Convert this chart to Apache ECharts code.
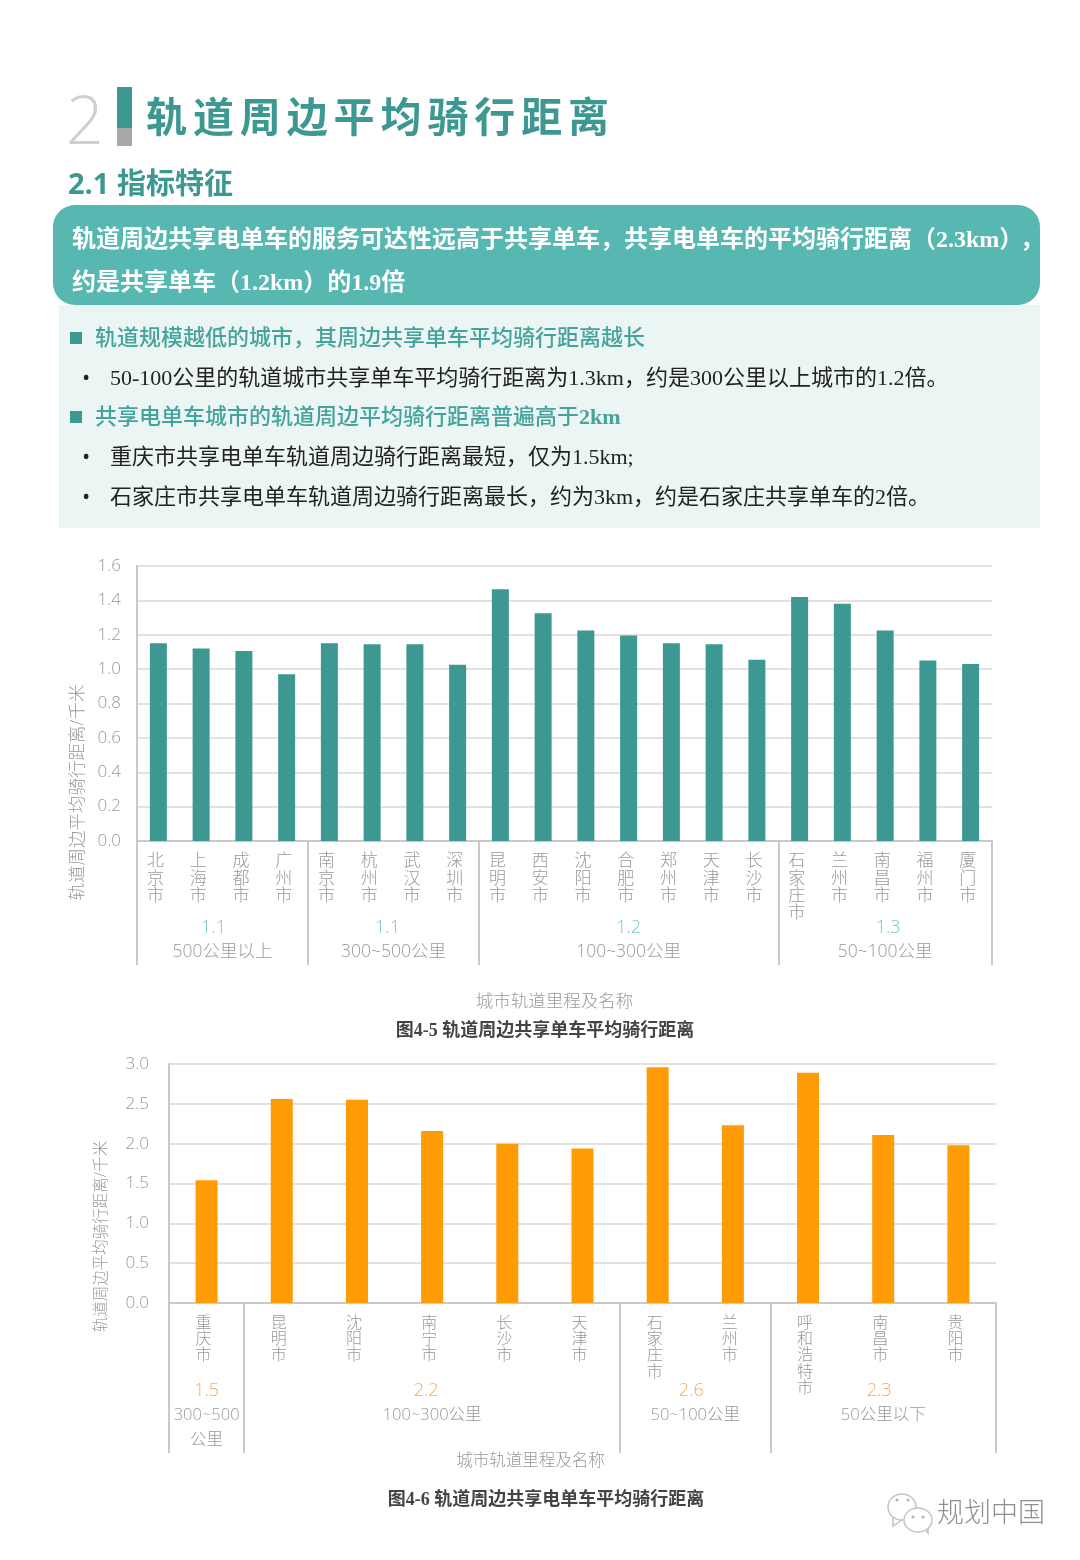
<!DOCTYPE html>
<html>
<head>
<meta charset="utf-8">
<style>html,body{margin:0;padding:0;background:#fff}#main{width:1080px;height:1560px}</style>
<script src="https://cdn.jsdelivr.net/npm/echarts@6/dist/echarts.min.js"></script>
</head>
<body>
<div id="main"></div>
<script>
var bikeCities = ['北京市','上海市','成都市','广州市','南京市','杭州市','武汉市','深圳市','昆明市','西安市','沈阳市','合肥市','郑州市','天津市','长沙市','石家庄市','兰州市','南昌市','福州市','厦门市'];
var bikeValues = [1.15,1.12,1.105,0.97,1.15,1.145,1.145,1.025,1.465,1.325,1.225,1.195,1.15,1.145,1.055,1.42,1.38,1.225,1.05,1.03];
var bikeGroupEdges = [0,4,8,15,20];
var bikeGroupNames = ['500公里以上','300~500公里','100~300公里','50~100公里'];
var bikeGroupMeans = ['1.1','1.1','1.2','1.3'];

var ebikeCities = ['重庆市','昆明市','沈阳市','南宁市','长沙市','天津市','石家庄市','兰州市','呼和浩特市','南昌市','贵阳市'];
var ebikeValues = [1.54,2.56,2.55,2.16,2.0,1.94,2.96,2.23,2.89,2.11,1.98];
var ebikeGroupEdges = [0,1,6,8,11];
var ebikeGroupNames = ['300~500\n公里','100~300公里','50~100公里','50公里以下'];
var ebikeGroupMeans = ['1.5','2.2','2.6','2.3'];

var yName = '轨道周边平均骑行距离/千米';
var xName = '城市轨道里程及名称';
var headline = '轨道周边平均骑行距离';

var GREY = '#999', LINE = '#c9c9c9', TEAL = '#3d9892', ACCENT = '#45a39d';
var sans = '"Open Sans","Noto Sans CJK SC",sans-serif';
var mixed = '"Liberation Serif","Noto Sans CJK SC",serif';

function centers(edges) {
    var out = [];
    for (var i = 0; i < edges.length - 1; i++) out.push((edges[i] + edges[i + 1]) / 2);
    return out;
}
function vertical(name) { return name.split('').join('\n'); }

function catAxis(gridIndex, cities, labelSize, nameSize, nameGap, namePad) {
    return {
        type: 'category', gridIndex: gridIndex, data: cities, position: 'bottom',
        name: xName, nameLocation: 'middle', nameGap: nameGap,
        nameTextStyle: { color: GREY, fontSize: nameSize, fontFamily: sans, fontWeight: 300, padding: namePad },
        axisLine: { show: true, lineStyle: { color: LINE, width: 2 } },
        axisTick: { show: false },
        axisLabel: {
            interval: 0, margin: 12, color: GREY, fontSize: labelSize, fontWeight: 300,
            fontFamily: sans, lineHeight: labelSize + 0.3, verticalAlign: 'top',
            padding: [0, 6, 0, 0],
            formatter: vertical
        }
    };
}
function groupAxis(gridIndex, edges, names, means, color, size, tickLen, margin, pads) {
    var mids = centers(edges);
    var rich = {
        g: { color: GREY, fontSize: size, fontWeight: 300, fontFamily: sans, lineHeight: 25 }
    };
    pads.forEach(function (p, i) {
        rich['m' + i] = { color: color, fontSize: 18, fontWeight: 300, fontFamily: sans, lineHeight: 24, padding: p };
    });
    return {
        type: 'value', gridIndex: gridIndex, position: 'bottom', min: 0, max: edges[edges.length - 1],
        axisLine: { show: false }, splitLine: { show: false },
        axisTick: { show: true, customValues: edges, length: tickLen, lineStyle: { color: LINE, width: 2 } },
        axisLabel: {
            show: true, customValues: mids, margin: margin, verticalAlign: 'top', align: 'center',
            hideOverlap: false, showMinLabel: true, showMaxLabel: true,
            formatter: function (v) {
                var i = mids.indexOf(v);
                var lines = names[i].split('\n').map(function (s) { return '{g|' + s + '}'; }).join('\n');
                return '{m' + i + '|' + means[i] + '}\n' + lines;
            },
            rich: rich
        }
    };
}
function valAxis(gridIndex, max, interval, labelSize, margin, nameSize, nameGap, namePad) {
    return {
        type: 'value', gridIndex: gridIndex, min: 0, max: max, interval: interval,
        name: yName, nameLocation: 'middle', nameGap: nameGap, nameRotate: 90,
        nameTextStyle: { color: GREY, fontSize: nameSize, fontFamily: sans, fontWeight: 300, padding: namePad },
        axisLine: { show: true, lineStyle: { color: LINE, width: 2 } },
        axisTick: { show: false },
        splitLine: { show: true, lineStyle: { color: '#d9d9d9', width: 1.5 } },
        axisLabel: {
            margin: margin, color: GREY, fontSize: labelSize, fontWeight: 300, fontFamily: sans,
            formatter: function (v) { return v.toFixed(1); }
        }
    };
}

function text(x, y, str, size, color, extra) {
    var style = { x: x, y: y, text: str, fontSize: size, fill: color, fontFamily: mixed, verticalAlign: 'middle' };
    for (var k in extra) style[k] = extra[k];
    return { type: 'text', silent: true, style: style };
}
function rect(x, y, w, h, fill, r) {
    return { type: 'rect', silent: true, shape: { x: x, y: y, width: w, height: h, r: r || 0 }, style: { fill: fill } };
}
function bubble(cx, cy, rx, ry) {
    return { type: 'ellipse', silent: true, shape: { cx: cx, cy: cy, rx: rx, ry: ry }, style: { fill: '#fff', stroke: '#c4c4c4', lineWidth: 1.5 } };
}
function tail(points) {
    return { type: 'polyline', silent: true, shape: { points: points }, style: { fill: '#fff', stroke: '#c4c4c4', lineWidth: 1.5 } };
}
function dot(cx, cy) {
    return { type: 'circle', silent: true, shape: { cx: cx, cy: cy, r: 1.6 }, style: { fill: '#b5b5b5' } };
}

var page = [
    text(66, 125, '2', 66, '#cfcfcf', { fontFamily: sans, fontWeight: 200 }),
    rect(117, 87, 15, 41, TEAL),
    rect(117, 128, 15, 18, '#a8a8a8'),
    text(68, 186, '2.1 指标特征', 29, TEAL, { fontFamily: sans, fontWeight: 'bold' }),
    rect(59, 305, 981, 223, '#ebf5f4'),
    rect(53, 205, 987, 100, '#57b8b2', 22),
    text(72, 241, '轨道周边共享电单车的服务可达性远高于共享单车，共享电单车的平均骑行距离（2.3km）', 24, '#fff', { fontWeight: 'bold' }),
    text(1020, 241, '，', 24, '#fff', { fontWeight: 'bold' }),
    text(72, 284, '约是共享单车（1.2km）的1.9倍', 24, '#fff', { fontWeight: 'bold' }),
    rect(70, 332, 12, 12, TEAL),
    text(95, 339, '轨道规模越低的城市，其周边共享单车平均骑行距离越长', 22, ACCENT, { fontWeight: 500 }),
    text(82, 379, '•', 22, '#222', { fontFamily: sans }),
    text(110, 379, '50-100公里的轨道城市共享单车平均骑行距离为1.3km，约是300公里以上城市的1.2倍。', 22, '#222'),
    rect(70, 411, 12, 12, TEAL),
    text(95, 418, '共享电单车城市的轨道周边平均骑行距离普遍高于{b|2km}', 22, ACCENT, {
        fontWeight: 500,
        rich: { b: { fontSize: 22, fontWeight: 'bold', fontFamily: mixed, fill: ACCENT } }
    }),
    text(82, 458, '•', 22, '#222', { fontFamily: sans }),
    text(110, 458, '重庆市共享电单车轨道周边骑行距离最短，仅为1.5km;', 22, '#222'),
    text(82, 498, '•', 22, '#222', { fontFamily: sans }),
    text(110, 498, '石家庄市共享电单车轨道周边骑行距离最长，约为3km，约是石家庄共享单车的2倍。', 22, '#222'),
    text(545, 1031, '图4-5 轨道周边共享单车平均骑行距离', 18, '#444', { fontWeight: 'bold', align: 'center' }),
    text(546, 1500, '图4-6 轨道周边共享电单车平均骑行距离', 18, '#444', { fontWeight: 'bold', align: 'center' }),
    tail([[893, 1517], [893, 1526], [902, 1520]]),
    bubble(902, 1507, 14, 13), dot(897, 1500), dot(908, 1500),
    tail([[924, 1528], [928, 1533], [928, 1526]]),
    bubble(918, 1520, 14, 12), dot(913, 1517), dot(923, 1517),
    text(937, 1514, '规划中国', 27, '#8f8f8f', { fontFamily: sans, fontWeight: 300 })
];
// 标题字距拉开，逐字排
headline.split('').forEach(function (ch, i) {
    page.push(text(146 + i * 46.9, 120, ch, 41, TEAL, { fontFamily: sans, fontWeight: 'bold' }));
});

var chart = echarts.init(document.getElementById('main'));
chart.setOption({
    animation: false,
    backgroundColor: '#fff',
    graphic: { elements: page },
    grid: [
        { left: 137, top: 566, width: 855, height: 275 },
        { left: 169, top: 1064, width: 827, height: 239 }
    ],
    xAxis: [
        catAxis(0, bikeCities, 17, 17.5, 152, [0, 20, 0, 0]),
        groupAxis(0, bikeGroupEdges, bikeGroupNames, bikeGroupMeans, '#7cc4cf', 17.5, 124, 75,
            [[0, 18, 0, 0], [0, 12, 0, 0], [0, 0, 0, 0], [0, 0, 0, 6]]),
        catAxis(1, ebikeCities, 16, 16.5, 150, [0, 104, 0, 0]),
        groupAxis(1, ebikeGroupEdges, ebikeGroupNames, ebikeGroupMeans, '#f7ab52', 16.5, 150, 76,
            [[0, 0, 0, 0], [0, 12, 0, 0], [0, 8, 0, 0], [0, 8, 0, 0]])
    ],
    yAxis: [
        valAxis(0, 1.6, 0.2, 17, 16, 17.5, 50, [0, 178, 0, 0]),
        valAxis(1, 3, 0.5, 17, 20, 15.5, 60, [0, 106, 0, 0])
    ],
    series: [
        { type: 'bar', xAxisIndex: 0, yAxisIndex: 0, data: bikeValues, barWidth: 17, itemStyle: { color: TEAL } },
        { type: 'bar', xAxisIndex: 2, yAxisIndex: 1, data: ebikeValues, barWidth: 22, itemStyle: { color: '#ff9b05' } }
    ]
});
</script>
</body>
</html>
